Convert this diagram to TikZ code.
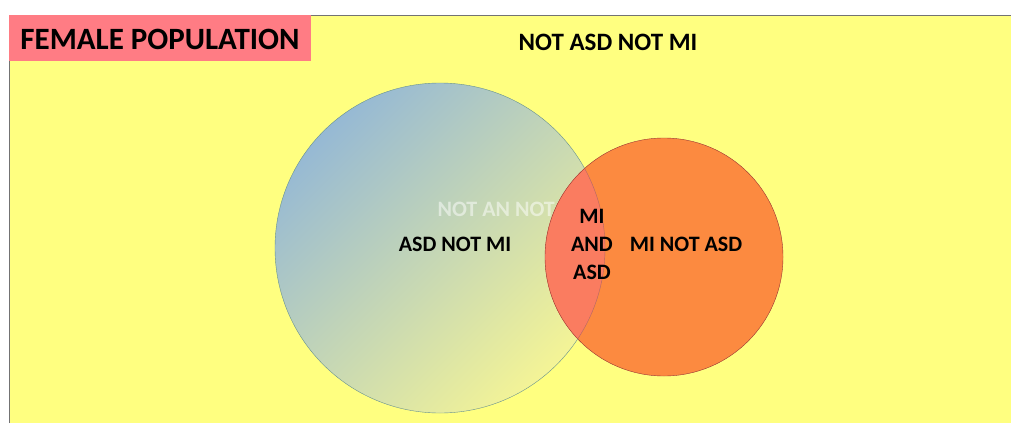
\documentclass[tikz,border=0pt]{standalone}
\usepackage{fontspec}
\setmainfont{Carlito}
\definecolor{popyellow}{RGB}{255,255,128}
\definecolor{titlepink}{RGB}{255,124,132}
\definecolor{asdblue}{RGB}{150,185,212}
\definecolor{asdyellow}{RGB}{244,244,150}
\definecolor{miorange}{RGB}{252,138,64}
\definecolor{bothred}{RGB}{250,124,96}
\tikzset{
    setlabel/.style={font=\fontsize{22}{28}\selectfont\bfseries, text=black, align=center},
}

\begin{document}
\begin{tikzpicture}[x=1pt,y=-1pt]
    \useasboundingbox (0,0) rectangle (1011,423);
    \fill[white] (0,0) rectangle (1011,423);

    % population
    \fill[popyellow] (9,15) rectangle (1011,423);
    \draw[black!55, thin] (9,423) -- (9,15) -- (1011,15);
    \fill[titlepink] (9,15) rectangle (311,61);
    \node[font=\fontsize{31}{31}\selectfont\bfseries] (title) at (160,39) {FEMALE POPULATION};
    \node[font=\fontsize{25}{25}\selectfont\bfseries] (outside) at (608,42) {NOT ASD NOT MI};

    % ASD circle
    \shade[top color=asdblue, bottom color=asdyellow, shading angle=45] (440,248) circle [radius=165pt];
    \draw[black!45!teal!60, thin] (440,248) circle [radius=165pt] node (ASD) {};
    \node[setlabel, text=white, opacity=0.5, anchor=west] (hidden) at (434,209) {NOT AN NOT};

    % MI circle
    \fill[miorange] (664,257) circle [radius=119pt];
    \begin{scope}
        \clip (440,248) circle [radius=165pt];
        \fill[bothred] (664,257) circle [radius=119pt];
    \end{scope}
    \draw[red!50!black!80, thin] (664,257) circle [radius=119pt] node (MI) {};
    \begin{scope}
        \clip (664,257) circle [radius=119pt];
        \draw[red!50!black!60, thin] (440,248) circle [radius=165pt];
    \end{scope}

    \node[setlabel] (asdonly) at (455,244) {ASD NOT MI};
    \node[setlabel] (both) at (592,244) {MI\\AND\\ASD};
    \node[setlabel] (mionly) at (686,244) {MI NOT ASD};
\end{tikzpicture}
\end{document}
